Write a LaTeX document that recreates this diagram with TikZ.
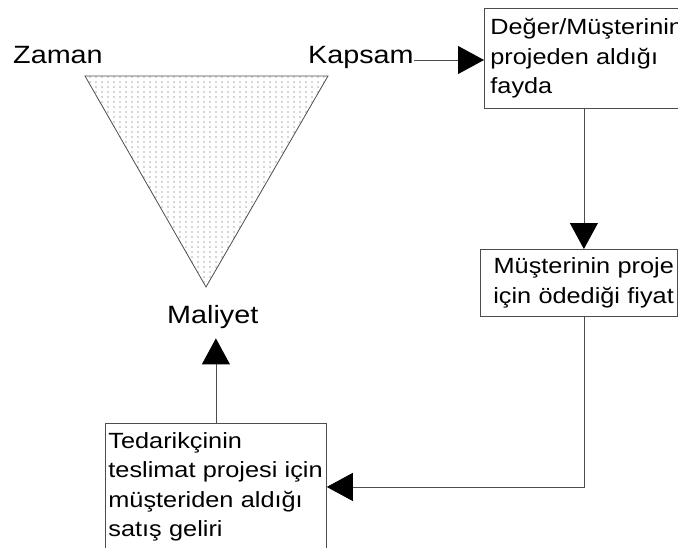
\documentclass[tikz,border=0pt]{standalone}
\usepackage{fontspec}
\setmainfont{Liberation Sans}[FakeStretch=1.15]
\usetikzlibrary{arrows.meta,patterns.meta}

\tikzdeclarepattern{
  name=noktali,
  type=uncolored,
  bottom left={(-1pt,-1pt)},
  top right={(5pt,4pt)},
  tile size={(6pt,5pt)},
  code={\fill (0pt,0pt) circle (0.55pt);}
}

\begin{document}
\begin{tikzpicture}[x=1pt,y=-1pt,
  kutu/.style={draw=black!70, line width=0.8pt, anchor=north west, align=left,
    font=\fontsize{22}{29.5}\selectfont},
  etiket/.style={inner sep=0pt, anchor=base west, font=\fontsize{25}{30}\selectfont},
  ok/.style={draw=black!70, line width=0.8pt, -{Triangle[length=26pt,width=28pt,color=black]}}]
\useasboundingbox (0,0) rectangle (678,547);
\clip (0,0) rectangle (678,547);

% triangle
\coordinate (solust) at (85,76);
\coordinate (sagust) at (328,76);
\coordinate (tepe) at (206,287);
\fill[pattern=noktali, pattern color=black!70] (solust) -- (sagust) -- (tepe) -- cycle;
\draw[black!70, line width=0.8pt] (solust) -- (sagust) -- (tepe) -- cycle;

\node[etiket] (zaman) at (13,63) {Zaman};
\node[etiket] (kapsam) at (308,63) {Kapsam};
\node[etiket] (maliyet) at (167,323) {Maliyet};

% boxes
\node[kutu, text width=210pt, inner xsep=6pt, minimum height=100pt] (deger) at (484,8) {Değer/Müşterinin\\projeden aldığı\\fayda};
\node[kutu, text width=190pt, inner xsep=3.5pt, minimum height=67pt, align=right] (fiyat) at (480,249) {Müşterinin proje\\için ödediği fiyat};
\node[kutu, text width=215pt, inner xsep=3pt, inner ysep=9pt] (gelir) at (105,423) {Tedarikçinin\\teslimat projesi için\\müşteriden aldığı\\satış geliri};

\coordinate (kap) at ([yshift=3pt]kapsam.base east);
\coordinate (dusey) at ([xshift=5pt]fiyat.north);

\draw[ok] (kap) -- (kap -| deger.west);
\draw[ok] (dusey |- deger.south) -- (dusey);
\draw[ok] (dusey |- fiyat.south) |- (gelir.east);
\draw[ok, shorten >=10pt] (gelir.north) -- (gelir.north |- maliyet.south);
\end{tikzpicture}
\end{document}
